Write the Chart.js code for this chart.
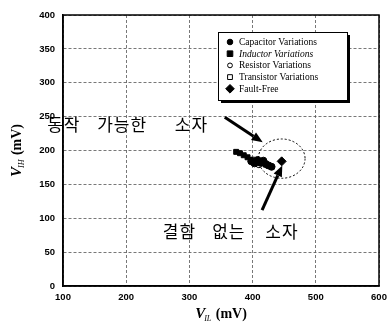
<!DOCTYPE html>
<html lang="ko">
<head>
<meta charset="UTF-8">
<title>VIL vs VIH</title>
<script src="https://cdn.jsdelivr.net/npm/chart.js"></script>
<style>
  html, body { margin: 0; padding: 0; background: #fff; }
  #box { width: 388px; height: 333px; }
</style>
</head>
<body>
<div id="box"><canvas id="myChart" width="388" height="333"></canvas></div>
<script>
// data (mV)
const capX = [398, 403, 408, 412, 417, 421, 425, 430];
const capY = [184, 181, 186, 182, 185, 180, 178, 176];
const indX = [374, 380, 386, 392, 397];
const indY = [198, 196, 193, 190, 186];
const resX = [405, 410, 415];
const resY = [183, 179, 182];
const traX = [400, 412, 420];
const traY = [187, 184, 179];
const ffX = [446];
const ffY = [184];

const xTicks = [100, 200, 300, 400, 500, 600];
const yTicks = [0, 50, 100, 150, 200, 250, 300, 350, 400];

// annotation text + arrows (data units)
const notes = [
  { words: ['동작', '가능한', '소자'], x: [75, 154, 277], y: 239 },
  { words: ['결함', '없는', '소자'], x: [258, 336, 420], y: 80 }
];
const arrows = [[356, 249, 416, 212], [415, 112, 447, 178]];
const ring = { x: 446, y: 188, rx: 37, ry: 29 };

function pts(xs, ys) { return xs.map((x, i) => ({ x: x, y: ys[i] })); }

const sets = [
  { label: 'Capacitor Variations', data: pts(capX, capY), pointStyle: 'circle', fill: true, r: 3.5 },
  { label: 'Inductor Variations', data: pts(indX, indY), pointStyle: 'rect', fill: true, r: 3.5 },
  { label: 'Resistor Variations', data: pts(resX, resY), pointStyle: 'circle', fill: false, r: 3 },
  { label: 'Transistor Variations', data: pts(traX, traY), pointStyle: 'rect', fill: false, r: 3 },
  { label: 'Fault-Free', data: pts(ffX, ffY), pointStyle: 'rectRot', fill: true, r: 4.5 }
];

const decor = {
  id: 'decor',
  afterDatasetsDraw(chart) {
    const ctx = chart.ctx, a = chart.chartArea;
    const xs = chart.scales.x, ys = chart.scales.y;
    const px = v => xs.getPixelForValue(v), py = v => ys.getPixelForValue(v);
    ctx.save();

    // frame
    ctx.strokeStyle = '#000';
    ctx.lineWidth = 1.5;
    ctx.strokeRect(a.left, a.top, a.right - a.left, a.bottom - a.top);

    // dotted ring
    ctx.setLineDash([2, 2]);
    ctx.lineWidth = 1;
    ctx.beginPath();
    ctx.ellipse(px(ring.x), py(ring.y), px(ring.x + ring.rx) - px(ring.x), py(ring.y) - py(ring.y + ring.ry), 0, 0, Math.PI * 2);
    ctx.stroke();
    ctx.setLineDash([]);

    // arrows
    arrows.forEach(ar => {
      const x1 = px(ar[0]), y1 = py(ar[1]), x2 = px(ar[2]), y2 = py(ar[3]);
      const ang = Math.atan2(y2 - y1, x2 - x1);
      const hl = 11, hw = 4.5;
      const bx = x2 - hl * Math.cos(ang), by = y2 - hl * Math.sin(ang);
      ctx.lineWidth = 3;
      ctx.beginPath();
      ctx.moveTo(x1, y1);
      ctx.lineTo(bx, by);
      ctx.stroke();
      ctx.fillStyle = '#000';
      ctx.beginPath();
      ctx.moveTo(x2, y2);
      ctx.lineTo(bx + hw * Math.sin(ang), by - hw * Math.cos(ang));
      ctx.lineTo(bx - hw * Math.sin(ang), by + hw * Math.cos(ang));
      ctx.closePath();
      ctx.fill();
    });

    // korean notes
    ctx.fillStyle = '#000';
    ctx.font = '17px "Noto Sans CJK KR"';
    ctx.textBaseline = 'middle';
    ctx.textAlign = 'left';
    ctx.letterSpacing = '1px';
    notes.forEach(n => {
      n.words.forEach((w, i) => ctx.fillText(w, px(n.x[i]), py(n.y)));
    });
    ctx.letterSpacing = '0px';

    // legend box
    const lx = 218, ly = 32, lw = 129, lh = 68;
    ctx.fillStyle = '#000';
    ctx.fillRect(lx + 3, ly + 3, lw, lh);
    ctx.fillStyle = '#fff';
    ctx.fillRect(lx, ly, lw, lh);
    ctx.lineWidth = 1;
    ctx.strokeStyle = '#000';
    ctx.strokeRect(lx + 0.5, ly + 0.5, lw, lh);
    chart.data.datasets.forEach((ds, i) => {
      const yy = ly + 10 + i * 11.7;
      const r = ds.pointRadius * 0.8;
      ctx.fillStyle = ds.backgroundColor;
      ctx.strokeStyle = '#000';
      ctx.lineWidth = 1;
      ctx.beginPath();
      if (ds.pointStyle === 'circle') ctx.arc(230, yy, r, 0, Math.PI * 2);
      else if (ds.pointStyle === 'rect') ctx.rect(230 - r, yy - r, 2 * r, 2 * r);
      else { ctx.moveTo(230, yy - r * 1.2); ctx.lineTo(230 + r * 1.2, yy); ctx.lineTo(230, yy + r * 1.2); ctx.lineTo(230 - r * 1.2, yy); ctx.closePath(); }
      ctx.fill();
      ctx.stroke();
      ctx.fillStyle = '#000';
      ctx.font = (i === 1 ? 'italic ' : '') + '9.5px "Liberation Serif"';
      ctx.fillText(ds.label, 239, yy + 0.5);
    });

    // axis titles
    function vTitle(sub, cx, cy, rot) {
      ctx.save();
      ctx.translate(cx, cy);
      ctx.rotate(rot);
      const f1 = 'italic bold 15px "Liberation Serif"', f2 = 'italic 8px "Liberation Serif"', f3 = 'bold 14px "Liberation Serif"';
      ctx.font = f1; const w1 = ctx.measureText('V').width;
      ctx.font = f2; const w2 = ctx.measureText(sub).width;
      ctx.font = f3; const w3 = ctx.measureText(' (mV)').width;
      let x0 = -(w1 + w2 + w3) / 2;
      ctx.textBaseline = 'alphabetic';
      ctx.fillStyle = '#000';
      ctx.font = f1; ctx.fillText('V', x0, 5);
      ctx.font = f2; ctx.fillText(sub, x0 + w1 - 1, 8);
      ctx.font = f3; ctx.fillText(' (mV)', x0 + w1 + w2, 5);
      ctx.restore();
    }
    vTitle('IL', (a.left + a.right) / 2, 313, 0);
    vTitle('IH', 16, (a.top + a.bottom) / 2, -Math.PI / 2);

    ctx.restore();
  }
};

const tickFont = { family: 'Liberation Sans', weight: 'bold', size: 9.5 };

const config = {
  type: 'scatter',
  data: {
    datasets: sets.map(s => ({
      label: s.label,
      data: s.data,
      pointStyle: s.pointStyle,
      pointRadius: s.r,
      pointHoverRadius: s.r,
      backgroundColor: s.fill ? '#000' : '#fff',
      borderColor: '#000',
      borderWidth: 1
    }))
  },
  options: {
    responsive: false,
    animation: false,
    events: [],
    layout: { padding: { top: 15, right: 0, left: 0, bottom: 0 } },
    plugins: { legend: { display: false }, tooltip: { enabled: false } },
    scales: {
      x: {
        type: 'linear', min: 100, max: 600,
        afterBuildTicks: s => { s.ticks = xTicks.map(v => ({ value: v })); },
        afterFit: s => { s.height = 47; s.paddingRight = 9; s.paddingLeft = 0; },
        grid: { color: '#555', lineWidth: 0.8, drawTicks: false },
        border: { display: true, color: '#000', width: 1.5, dash: [3, 2] },
        ticks: { padding: 6, color: '#000', font: tickFont }
      },
      y: {
        type: 'linear', min: 0, max: 400,
        afterBuildTicks: s => { s.ticks = yTicks.map(v => ({ value: v })); },
        afterFit: s => { s.width = 63; s.paddingTop = 0; s.paddingBottom = 0; },
        grid: { color: '#555', lineWidth: 0.8, drawTicks: false },
        border: { display: true, color: '#000', width: 1.5, dash: [3, 2] },
        ticks: { padding: 8, color: '#000', font: tickFont }
      }
    }
  },
  plugins: [decor]
};

const myChart = new Chart(document.getElementById('myChart'), config);
</script>
</body>
</html>
